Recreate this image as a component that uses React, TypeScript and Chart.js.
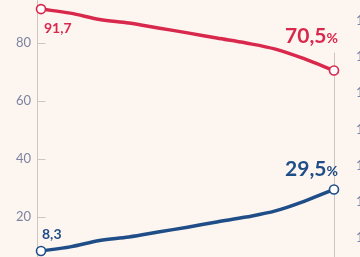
import React, { useEffect, useRef } from "react";
import { Chart, registerables } from "chart.js";

Chart.register(...registerables);

const periods = ["P1", "P2", "P3", "P4", "P5", "P6", "P7", "P8", "P9", "P10", "P11"];
const redSeries = [91.7, 90.3, 88.1, 86.9, 85.2, 83.5, 81.7, 80.0, 77.9, 74.5, 70.5];
const blueSeries = [8.3, 9.7, 11.9, 13.1, 14.8, 16.5, 18.3, 20.0, 22.1, 25.5, 29.5];
const yTicks = [20, 40, 60, 80];
const rightEdgeLabels = ["1", "1", "1", "1", "1", "1", "1"];

const RED = "#d8284c";
const BLUE = "#1e4d87";
const TICK = "#7d84a2";
const AXIS = "#cdc6c0";
const BG = "#fdf5ef";

const fmt = (v: number) => v.toFixed(1).replace(".", ",");

export default function App() {
  const ref = useRef<HTMLCanvasElement | null>(null);

  useEffect(() => {
    if (!ref.current) return;
    const decor = {
      id: "decor",
      beforeDraw(chart: any) {
        const { ctx, width, height } = chart;
        ctx.save();
        ctx.fillStyle = BG;
        ctx.fillRect(0, 0, width, height);
        ctx.restore();
      },
      beforeDatasetsDraw(chart: any) {
        const { ctx, chartArea } = chart;
        const ys = chart.scales.y;
        const m0 = chart.getDatasetMeta(0).data;
        const last = m0.length - 1;
        ctx.save();
        ctx.strokeStyle = AXIS;
        ctx.lineWidth = 1;
        const ax = Math.round(chartArea.left - 4) + 0.5;
        ctx.beginPath();
        ctx.moveTo(ax, chartArea.top);
        ctx.lineTo(ax, chartArea.bottom);
        ctx.stroke();
        yTicks.forEach((t) => {
          const y = Math.round(ys.getPixelForValue(t)) + 0.5;
          ctx.beginPath();
          ctx.moveTo(ax, y);
          ctx.lineTo(ax + 8, y);
          ctx.stroke();
        });
        const rx = Math.round(m0[last].x) + 0.5;
        ctx.beginPath();
        ctx.moveTo(rx, m0[last].y - 18);
        ctx.lineTo(rx, chartArea.bottom);
        ctx.stroke();
        ctx.restore();
      },
      afterDraw(chart: any) {
        const { ctx, width } = chart;
        const m0 = chart.getDatasetMeta(0).data;
        const m1 = chart.getDatasetMeta(1).data;
        const last = m0.length - 1;
        ctx.save();
        ctx.textBaseline = "alphabetic";
        ctx.font = "bold 14px Lato";
        ctx.textAlign = "left";
        ctx.fillStyle = RED;
        ctx.fillText(fmt(redSeries[0]), m0[0].x + 3, m0[0].y + 24);
        ctx.fillStyle = BLUE;
        ctx.fillText(fmt(blueSeries[0]), m1[0].x + 1, m1[0].y - 12);
        const drawEnd = (val: number, color: string, px: number, baseline: number) => {
          const right = px + 4;
          ctx.fillStyle = color;
          ctx.font = "bold 14px Lato";
          const pw = ctx.measureText("%").width;
          ctx.textAlign = "right";
          ctx.fillText("%", right, baseline);
          ctx.font = "bold 21px Lato";
          ctx.fillText(fmt(val), right - pw, baseline);
        };
        drawEnd(redSeries[last], RED, m0[last].x, m0[last].y - 28);
        drawEnd(blueSeries[last], BLUE, m1[last].x, m1[last].y - 13);
        ctx.font = "13px Lato";
        ctx.fillStyle = TICK;
        ctx.textAlign = "left";
        rightEdgeLabels.forEach((s, i) => {
          ctx.fillText(s, width - 4, 25 + i * 36.2);
        });
        ctx.restore();
      },
    };

    const mkPoints = (arr: number[]) => arr.map((_, i) => (i === 0 || i === arr.length - 1 ? 4.5 : 0));

    const chart = new Chart(ref.current, {
      type: "line",
      data: {
        labels: periods,
        datasets: [
          {
            data: redSeries,
            borderColor: RED,
            borderWidth: 3.5,
            tension: 0.35,
            pointRadius: mkPoints(redSeries),
            pointBackgroundColor: "#ffffff",
            pointBorderColor: RED,
            pointBorderWidth: 1.6,
            clip: false,
          },
          {
            data: blueSeries,
            borderColor: BLUE,
            borderWidth: 3.5,
            tension: 0.35,
            pointRadius: mkPoints(blueSeries),
            pointBackgroundColor: "#ffffff",
            pointBorderColor: BLUE,
            pointBorderWidth: 1.6,
            clip: false,
          },
        ],
      },
      options: {
        animation: false,
        responsive: false,
        maintainAspectRatio: false,
        layout: { autoPadding: false, padding: { left: 0, right: 26, top: 0, bottom: 0 } },
        plugins: { legend: { display: false }, tooltip: { enabled: false } },
        scales: {
          x: { type: "category", display: false, offset: false },
          y: {
            min: 6.207,
            max: 94.83,
            afterBuildTicks: (s: any) => {
              s.ticks = yTicks.map((v) => ({ value: v }));
            },
            afterFit: (s: any) => {
              s.width = 41;
              s.paddingTop = 0;
              s.paddingBottom = 0;
            },
            grid: { display: false, drawTicks: false },
            border: { display: false },
            ticks: {
              color: TICK,
              font: { family: "Lato", size: 13 },
              padding: 10,
            },
          },
        },
      },
      plugins: [decor],
    });
    return () => chart.destroy();
  }, []);

  return (
    <div style={{ position: "fixed", left: 0, top: 0, width: 360, height: 257, background: BG }}>
      <canvas ref={ref} width={360} height={257} style={{ display: "block" }} />
    </div>
  );
}
